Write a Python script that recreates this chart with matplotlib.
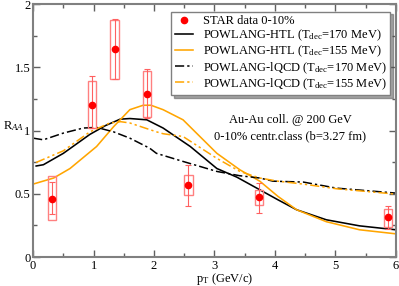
import numpy as np
import matplotlib
matplotlib.use('Agg')
import matplotlib.pyplot as plt
from matplotlib.patches import Rectangle
from matplotlib.ticker import MultipleLocator

plt.rcParams['font.family'] = ['Liberation Serif', 'DejaVu Serif']
plt.rcParams['mathtext.fontset'] = 'custom'
plt.rcParams['mathtext.rm'] = 'Liberation Serif'
plt.rcParams['mathtext.it'] = 'Liberation Serif:italic'

# STAR data 0-10%
star_pt = [0.31, 0.97, 1.35, 1.88, 2.57, 3.74, 5.87]
star_raa = [0.463, 1.20, 1.644, 1.29, 0.569, 0.474, 0.318]
star_stat_lo = [0.337, 1.02, 1.41, 1.10, 0.40, 0.35, 0.226]
star_stat_hi = [0.593, 1.43, 1.88, 1.49, 0.73, 0.587, 0.40]
star_sys_lo = [0.29, 1.02, 1.41, 1.11, 0.49, 0.41, 0.24]
star_sys_hi = [0.64, 1.39, 1.87, 1.47, 0.65, 0.534, 0.384]

# POWLANG-HTL Tdec=170 MeV
htl170_pt = [0.05, 0.17, 0.5, 0.94, 1.2, 1.44, 1.6, 1.88, 2.15, 2.6, 3.04, 3.37, 3.75, 4.05, 4.36, 4.85, 5.4, 6.0]
htl170_raa = [0.72, 0.73, 0.82, 0.97, 1.04, 1.09, 1.095, 1.085, 1.02, 0.874, 0.70, 0.632, 0.532, 0.453, 0.374, 0.295, 0.247, 0.216]

# POWLANG-HTL Tdec=155 MeV
htl155_pt = [0.0, 0.34, 0.61, 1.05, 1.33, 1.6, 1.82, 1.95, 2.15, 2.48, 3.04, 3.42, 3.75, 4.05, 4.36, 4.85, 5.4, 6.0]
htl155_raa = [0.577, 0.625, 0.70, 0.874, 1.03, 1.165, 1.20, 1.20, 1.165, 1.085, 0.82, 0.69, 0.60, 0.48, 0.374, 0.28, 0.216, 0.184]

# POWLANG-lQCD Tdec=170 MeV
lqcd170_pt = [0.0, 0.17, 0.5, 0.83, 1.05, 1.33, 1.6, 1.93, 2.04, 2.48, 3.04, 3.42, 3.75, 3.97, 4.47, 5.02, 6.0]
lqcd170_raa = [0.94, 0.927, 0.98, 1.02, 1.025, 0.99, 0.94, 0.86, 0.82, 0.756, 0.677, 0.643, 0.625, 0.60, 0.593, 0.545, 0.506]

# POWLANG-lQCD Tdec=155 MeV
lqcd155_pt = [0.05, 0.5, 0.94, 1.27, 1.45, 1.6, 2.04, 2.15, 2.48, 3.04, 3.42, 3.75, 4.05, 4.47, 5.02, 6.0]
lqcd155_raa = [0.748, 0.84, 0.99, 1.06, 1.07, 1.06, 0.99, 0.975, 0.953, 0.78, 0.677, 0.625, 0.60, 0.577, 0.54, 0.498]

orange = '#ffa500'

fig = plt.figure(figsize=(3.99, 2.86), dpi=100)
ax = fig.add_axes([0.083, 0.101, 0.909, 0.885])

# systematic boxes and stat errors
for pt, r, lo, hi, slo, shi in zip(star_pt, star_raa, star_stat_lo, star_stat_hi, star_sys_lo, star_sys_hi):
    ax.add_patch(Rectangle((pt - 0.07, slo), 0.14, shi - slo, fill=False,
                           edgecolor='#ff8080', lw=1.0, zorder=3))
    ax.errorbar([pt], [r], yerr=[[r - lo], [hi - r]], fmt='none',
                ecolor='#ff6060', elinewidth=0.8, capsize=2, capthick=0.8, zorder=4)
ax.plot(star_pt, star_raa, 'o', color='red', ms=4.5, zorder=5, label='STAR data 0-10%')

ax.plot(htl170_pt, htl170_raa, '-', color='black', lw=1.15, label=r'POWLANG-HTL (T$_\mathrm{dec}$=170 MeV)')
ax.plot(htl155_pt, htl155_raa, '-', color=orange, lw=1.15, label=r'POWLANG-HTL (T$_\mathrm{dec}$=155 MeV)')
ax.plot(lqcd170_pt, lqcd170_raa, color='black', lw=1.1, dashes=[6, 2, 1.5, 2],
        label=r'POWLANG-lQCD (T$_\mathrm{dec}$=170 MeV)')
ax.plot(lqcd155_pt, lqcd155_raa, color=orange, lw=1.1, dashes=[6, 2, 1.5, 2, 1.5, 2],
        label=r'POWLANG-lQCD (T$_\mathrm{dec}$=155 MeV)')

ax.set_xlim(0, 6)
ax.set_ylim(0, 2)
ax.xaxis.set_major_locator(MultipleLocator(1))
ax.xaxis.set_minor_locator(MultipleLocator(0.5))
ax.yaxis.set_major_locator(MultipleLocator(0.5))
ax.yaxis.set_minor_locator(MultipleLocator(0.25))
ax.set_yticks([0, 0.5, 1, 1.5, 2])
ax.set_yticklabels(['0', '0.5', '1', '1.5', '2'])
ax.tick_params(which='both', direction='in', top=True, right=True, labelsize=9, color='#606060', pad=2)
ax.tick_params(which='major', length=5, width=1)
ax.tick_params(which='minor', length=3, width=1)
for s in ax.spines.values():
    s.set_color('#808080')
    s.set_linewidth(1.5)

ax.set_xlabel(r'p$_\mathrm{T}$ (GeV/c)', fontsize=9, va='center')
ax.xaxis.set_label_coords(0.528, -0.086)
ax.set_ylabel(r'R$_{AA}$', fontsize=9, rotation=0)
ax.yaxis.set_label_coords(-0.055, 0.49)

ax.text(4.25, 1.085, 'Au-Au coll. @ 200 GeV', ha='center', va='center', fontsize=9)
ax.text(4.25, 0.955, '0-10% centr.class (b=3.27 fm)', ha='center', va='center', fontsize=9)

leg = ax.legend(loc='upper right', bbox_to_anchor=(0.992, 0.98), fontsize=9, frameon=True,
                fancybox=False, shadow=True, handlelength=1.4, handletextpad=0.8,
                borderpad=0.3, labelspacing=0.05, borderaxespad=0.2)
leg.get_frame().set_edgecolor('#808080')
leg.get_frame().set_linewidth(1.0)
leg.get_frame().set_alpha(1)

fig.savefig('out.png', dpi=100)
